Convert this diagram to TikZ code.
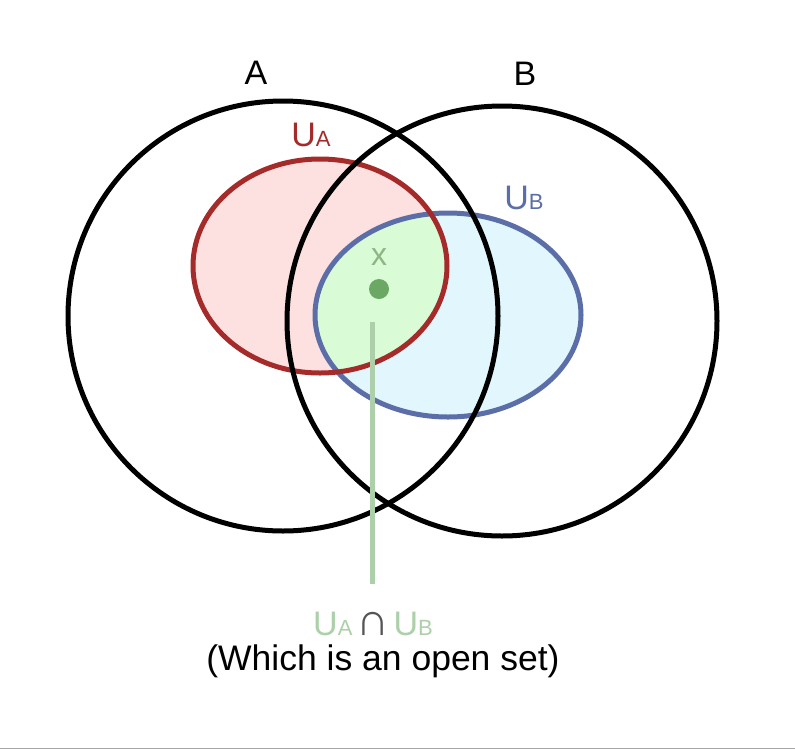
\documentclass[tikz,border=0pt]{standalone}
\usepackage{fontspec}
\setmainfont{Liberation Sans}
\definecolor{uafill}{HTML}{FDE0E0}
\definecolor{ubfill}{HTML}{E1F7FD}
\definecolor{icfill}{HTML}{D9FBD6}
\definecolor{uadraw}{HTML}{A52A2A}
\definecolor{ubdraw}{HTML}{5B6EA8}
\definecolor{lgreen}{HTML}{ADD0AA}
\definecolor{xgreen}{HTML}{8DB585}
\definecolor{dotgreen}{HTML}{6AA864}
\definecolor{capgray}{HTML}{555555}
\newcommand{\smlet}[1]{{\fontsize{22}{22}\selectfont #1}}
\begin{document}
\begin{tikzpicture}[x=1pt,y=-1pt,
  bigcirc/.style={draw=black, line width=5},
  openset/.style={line width=5},
  lbl/.style={anchor=base, inner sep=0pt, font=\fontsize{34}{34}\selectfont}]
\useasboundingbox (0,0) rectangle (795,750);
\fill[white] (0,0) rectangle (795,750);
% fills
\fill[uafill] (320,266) ellipse [x radius=127, y radius=107];
\fill[ubfill] (448,315) ellipse [x radius=133, y radius=102];
\begin{scope}
  \clip (320,266) ellipse [x radius=127, y radius=107];
  \fill[icfill] (448,315) ellipse [x radius=133, y radius=102];
\end{scope}
% outlines
\draw[openset, draw=ubdraw] (448,315) ellipse [x radius=133, y radius=102];
\draw[openset, draw=uadraw] (320,266) ellipse [x radius=127, y radius=107];
\draw[bigcirc] (283,316) circle [radius=215];
\draw[bigcirc] (502,321) circle [radius=215];
% point x
\node[circle, fill=dotgreen, minimum size=20, inner sep=0pt] (dot) at (379,289) {};
\node[lbl, text=xgreen, font=\fontsize{32}{32}\selectfont] (xl) at (379,265) {x};
% labels
\node[lbl] (la) at (256,84) {A};
\node[lbl] (lb) at (525,85) {B};
\node[lbl, text=uadraw] (lua) at (311,146.5) {U\smlet{A}};
\node[lbl, text=ubdraw] (lub) at (524,209) {U\smlet{B}};
\node[lbl, text=lgreen] (inter) at (373,635) {U\smlet{A}\hspace{4pt}{\color{capgray}\fontsize{46}{46}\selectfont ∩}\hspace{4pt}U\smlet{B}};
\node[lbl, font=\fontsize{35.5}{35.5}\selectfont] (note) at (383,670) {(Which is an open set)};
% connector
\coordinate (lt) at (372,322);
\coordinate (lbot) at (372,584);
\draw[lgreen, line width=5] (lt) -- (lbot);
% bottom rule
\draw[black!35, line width=1.5] (0,748.5) -- (795,748.5);
\end{tikzpicture}
\end{document}
